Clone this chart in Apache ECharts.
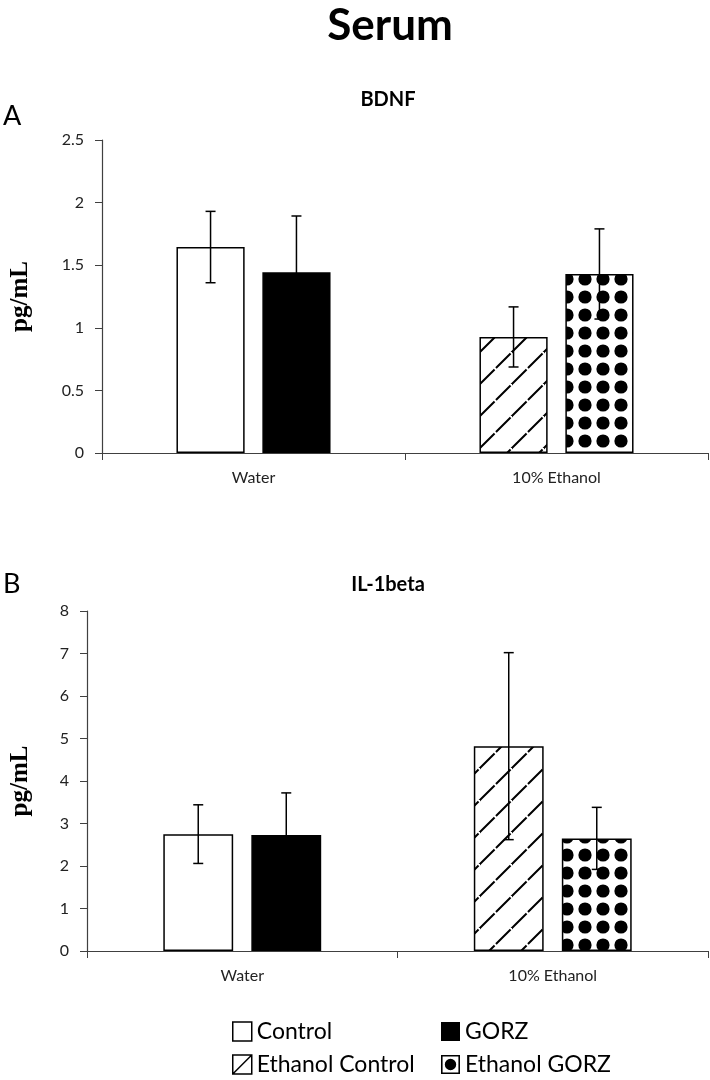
<!DOCTYPE html>
<html>
<head>
<meta charset="utf-8">
<script src="https://cdn.jsdelivr.net/npm/echarts@6/dist/echarts.min.js"></script>
<style>
html,body{margin:0;padding:0;background:#fff;}
#chart{width:710px;height:1080px;}
</style>
</head>
<body>
<div id="chart"></div>
<script>
// ---- data ----
const categories = ['Water', '10% Ethanol'];
const seriesNames = ['Control', 'GORZ', 'Ethanol Control', 'Ethanol GORZ'];
// order: Control, GORZ, Ethanol Control, Ethanol GORZ
const bdnfMean = [1.645, 1.443, 0.927, 1.43];
const bdnfErr  = [0.285, 0.45, 0.24, 0.36];
const il1Mean  = [2.75, 2.73, 4.82, 2.65];
const il1Err   = [0.69, 0.99, 2.2, 0.73];
const groupOf  = [0, 0, 1, 1];   // category index of each group
const slotOf   = [0, 1, 0, 1];   // left / right bar within category
const bdnfTicks = {min: 0, max: 2.5, interval: 0.5};
const il1Ticks  = {min: 0, max: 8, interval: 1};

// ---- patterns ----
function hatchPattern() {
  const c = document.createElement('canvas');
  c.width = 32; c.height = 32;
  const g = c.getContext('2d');
  g.fillStyle = '#fff'; g.fillRect(0, 0, 32, 32);
  g.strokeStyle = '#000'; g.lineWidth = 2;
  g.setLineDash([20.6, 2]);
  g.beginPath(); g.moveTo(0, 32); g.lineTo(32, 0); g.stroke();
  g.setLineDash([]);
  g.beginPath(); g.moveTo(-2, 2); g.lineTo(2, -2); g.moveTo(30, 34); g.lineTo(34, 30); g.stroke();
  return {image: c, repeat: 'repeat'};
}
function dotPattern() {
  const c = document.createElement('canvas');
  c.width = 18; c.height = 18;
  const g = c.getContext('2d');
  g.fillStyle = '#fff'; g.fillRect(0, 0, 18, 18);
  g.fillStyle = '#000';
  g.beginPath(); g.arc(9, 9, 6.6, 0, Math.PI * 2); g.fill();
  return {image: c, repeat: 'repeat'};
}
const fills = ['#ffffff', '#000000', hatchPattern(), dotPattern()];
const stacks = ['L', 'R', 'L', 'R'];

const BAR_RATIO = 0.225;
const GAP_RATIO = 0.26;

function barSeries(means, gridIdx) {
  return seriesNames.map((name, i) => {
    const d = categories.map((_, ci) => (groupOf[i] === ci ? means[i] : '-'));
    return {
      name: name, type: 'bar', xAxisIndex: gridIdx, yAxisIndex: gridIdx,
      stack: stacks[i] + gridIdx, data: d,
      barWidth: (BAR_RATIO * 100) + '%', barGap: (GAP_RATIO * 100) + '%',
      itemStyle: {color: fills[i], borderColor: '#000', borderWidth: 1.5},
      emphasis: {disabled: true}, z: 2
    };
  });
}
function errSeries(means, errs, gridIdx) {
  return {
    type: 'custom', xAxisIndex: gridIdx, yAxisIndex: gridIdx, z: 5,
    encode: {x: 0, y: 1},
    data: means.map((m, i) => [groupOf[i], m, errs[i], slotOf[i]]),
    renderItem: function (params, api) {
      const cat = api.value(0), m = api.value(1), e = api.value(2), s = api.value(3);
      const band = api.size([1, 0])[0];
      const bw = band * BAR_RATIO;
      const off = (bw * (1 + GAP_RATIO)) / 2 * (s ? 1 : -1);
      const top = api.coord([cat, m + e]);
      const bot = api.coord([cat, m - e]);
      const x = top[0] + off;
      const cap = 5;
      const st = {stroke: '#000', lineWidth: 1.5};
      return {type: 'group', children: [
        {type: 'line', shape: {x1: x, y1: top[1], x2: x, y2: bot[1]}, style: st},
        {type: 'line', shape: {x1: x - cap, y1: top[1], x2: x + cap, y2: top[1]}, style: st},
        {type: 'line', shape: {x1: x - cap, y1: bot[1], x2: x + cap, y2: bot[1]}, style: st}
      ]};
    }
  };
}

const axisColor = '#404040';
const labelFont = 'Lato';
function xAxis(gridIdx) {
  return {
    type: 'category', gridIndex: gridIdx, data: categories,
    axisLine: {lineStyle: {color: axisColor, width: 1.2}},
    axisTick: {show: true, length: 7, lineStyle: {color: axisColor}},
    axisLabel: {color: '#222', fontSize: 16, fontFamily: labelFont, margin: 17}
  };
}
function yAxis(gridIdx, t, nameGap) {
  return {
    type: 'value', gridIndex: gridIdx, min: t.min, max: t.max, interval: t.interval,
    name: 'pg/mL', nameLocation: 'middle', nameRotate: 90, nameGap: nameGap,
    nameTextStyle: {fontFamily: 'Liberation Serif', fontWeight: 'bold', fontSize: 25, color: '#000'},
    axisLine: {show: true, lineStyle: {color: axisColor, width: 1.2}},
    axisTick: {show: true, length: 7, lineStyle: {color: axisColor}},
    axisLabel: {color: '#222', fontSize: 16, fontFamily: labelFont, margin: 18},
    splitLine: {show: false}
  };
}

const chart = echarts.init(document.getElementById('chart'), null, {renderer: 'canvas'});
const ctrlIconLine = 'path://M0,0L18,0L18,18L0,18Z M0,18L18,0';
const dotIcon = 'path://M0,0L18,0L18,18L0,18Z M1.5,1.5L1.5,16.5L16.5,16.5L16.5,1.5Z M3.6,9A5.4,5.4 0 1,0 14.4,9A5.4,5.4 0 1,0 3.6,9Z';
const legendText = {fontFamily: labelFont, fontSize: 23, color: '#000', lineHeight: 23};
chart.setOption({
  animation: false,
  backgroundColor: '#fff',
  grid: [
    {left: 98, right: 2, top: 140, bottom: 627},
    {left: 83, right: 2, top: 611, bottom: 129}
  ],
  xAxis: [xAxis(0), xAxis(1)],
  yAxis: [yAxis(0, bdnfTicks, 69), yAxis(1, il1Ticks, 54)],
  legend: [
    {orient: 'vertical', left: 232, bottom: 4, height: 80, itemWidth: 19, itemHeight: 19, itemGap: 10,
     padding: 0, selectedMode: false, textStyle: legendText,
     data: [
       {name: 'Control', icon: 'rect', itemStyle: {color: '#fff', borderColor: '#000', borderWidth: 1.5}},
       {name: 'Ethanol Control', icon: ctrlIconLine, itemStyle: {color: '#fff', borderColor: '#000', borderWidth: 1.5}}
     ]},
    {orient: 'vertical', left: 441, bottom: 4, height: 80, itemWidth: 19, itemHeight: 19, itemGap: 10,
     padding: 0, selectedMode: false, textStyle: legendText,
     data: [
       {name: 'GORZ', icon: 'rect', itemStyle: {color: '#000', borderColor: '#000', borderWidth: 0}},
       {name: 'Ethanol GORZ', icon: dotIcon, itemStyle: {color: '#000', borderWidth: 0}}
     ]}
  ],
  graphic: [
    {type: 'text', x: 390, y: 26, style: {text: 'Serum', font: 'bold 44px Lato', fill: '#000', align: 'center', verticalAlign: 'middle'}},
    {type: 'text', x: 388, y: 100, style: {text: 'BDNF', font: 'bold 20px Lato', fill: '#000', align: 'center', verticalAlign: 'middle'}},
    {type: 'text', x: 388, y: 585, style: {text: 'IL-1beta', font: 'bold 20px Lato', fill: '#000', align: 'center', verticalAlign: 'middle'}},
    {type: 'text', x: 3, y: 116, style: {text: 'A', font: '27px Lato', fill: '#000', align: 'left', verticalAlign: 'middle'}},
    {type: 'text', x: 3, y: 584, style: {text: 'B', font: '27px Lato', fill: '#000', align: 'left', verticalAlign: 'middle'}}
  ],
  series: [].concat(
    barSeries(bdnfMean, 0), [errSeries(bdnfMean, bdnfErr, 0)],
    barSeries(il1Mean, 1), [errSeries(il1Mean, il1Err, 1)]
  )
});
</script>
</body>
</html>
